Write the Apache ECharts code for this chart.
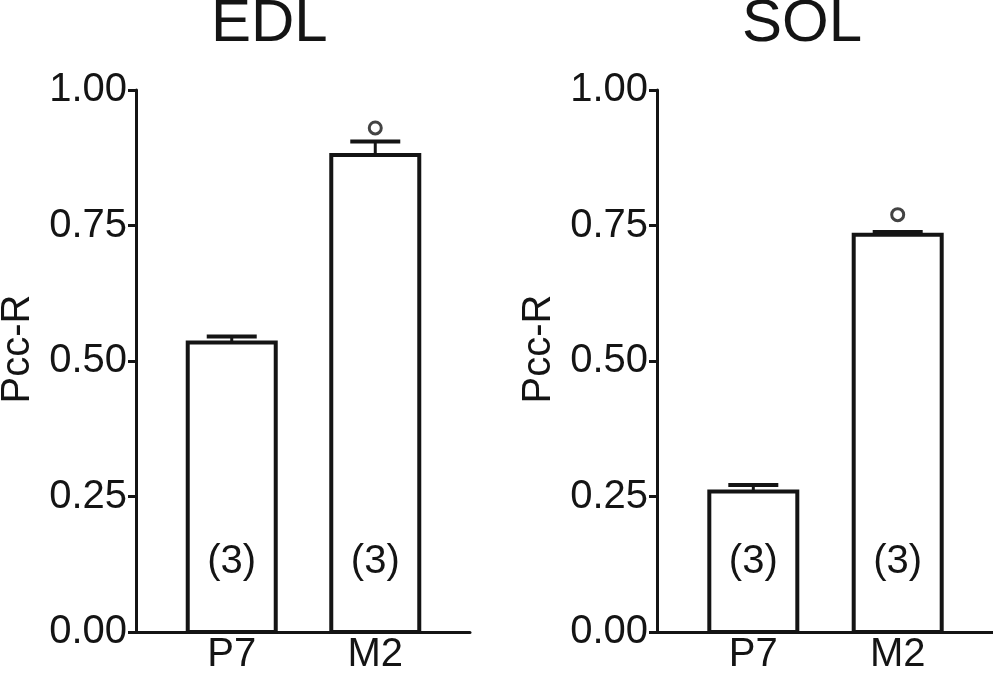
<!DOCTYPE html>
<html>
<head>
<meta charset="utf-8">
<script src="https://cdn.jsdelivr.net/npm/echarts@6/dist/echarts.min.js"></script>
<style>
html,body{margin:0;padding:0;background:#fff;}
#chart{width:993px;height:673px;}
</style>
</head>
<body>
<div id="chart"></div>
<script>
// ---- data ----
var categories = ['P7', 'M2'];
var panelTitles = ['EDL', 'SOL'];
var edlMean = [0.534, 0.880];
var edlUpper = [0.545, 0.905];
var solMean = [0.259, 0.733];
var solUpper = [0.271, 0.738];
var nCounts = ['(3)', '(3)'];
var edlMarker = [null, 0.930];
var solMarker = [null, 0.770];

var FONT = 'Liberation Sans, Arial, Helvetica, sans-serif';
var INK = '#141414';
var FS = 40;

var chart = echarts.init(document.getElementById('chart'), null, {renderer: 'canvas'});

function xAxisDef(gi) {
  return {
    type: 'value', gridIndex: gi, min: -0.667, max: 1.66,
    axisLine: {show: true, onZero: false, lineStyle: {color: INK, width: 3}},
    axisTick: {show: false},
    splitLine: {show: false},
    axisLabel: {
      show: true, customValues: [0, 1], margin: 3,
      fontSize: FS, fontFamily: FONT, color: INK,
      formatter: function (v) { return categories[Math.round(v)]; }
    }
  };
}
function yAxisDef(gi) {
  return {
    type: 'value', gridIndex: gi, min: 0, max: 1, interval: 0.25,
    name: 'Pcc-R', nameLocation: 'middle', nameGap: 98, nameRotate: 90,
    nameTextStyle: {fontSize: FS, fontFamily: FONT, color: INK, padding: [0, 0, 0, 24]},
    axisLine: {show: true, onZero: false, lineStyle: {color: INK, width: 3}},
    axisTick: {show: true, length: 8, lineStyle: {color: INK, width: 3}},
    splitLine: {show: false},
    axisLabel: {
      margin: 9, fontSize: FS, fontFamily: FONT, color: INK,
      formatter: function (v) { return v.toFixed(2); }
    }
  };
}

function barSeries(gi, means) {
  return {
    type: 'custom', xAxisIndex: gi, yAxisIndex: gi, z: 2,
    data: means.map(function (m, i) { return [i, m]; }),
    renderItem: function (params, api) {
      var idx = params.dataIndex;
      var base = api.coord([api.value(0), 0]);
      var top = api.coord([api.value(0), api.value(1)]);
      var w = 88;
      return {
        type: 'group',
        children: [
          {type: 'rect', shape: {x: base[0] - w / 2, y: top[1], width: w, height: base[1] - top[1]},
           style: {fill: '#fff', stroke: INK, lineWidth: 4}},
          {type: 'text', x: base[0], y: base[1] - 70,
           style: {text: nCounts[idx], fontSize: FS, fontFamily: FONT, fill: INK,
                   align: 'center', verticalAlign: 'middle'}}
        ]
      };
    }
  };
}
function errSeries(gi, means, uppers) {
  return {
    type: 'custom', xAxisIndex: gi, yAxisIndex: gi, z: 3,
    data: means.map(function (m, i) { return [i, m, uppers[i]]; }),
    renderItem: function (params, api) {
      var base = api.coord([api.value(0), api.value(1)]);
      var top = api.coord([api.value(0), api.value(2)]);
      var hw = 25;
      return {
        type: 'group',
        children: [
          {type: 'line', shape: {x1: base[0], y1: base[1], x2: top[0], y2: top[1]},
           style: {stroke: INK, lineWidth: 3}},
          {type: 'line', shape: {x1: top[0] - hw, y1: top[1], x2: top[0] + hw, y2: top[1]},
           style: {stroke: INK, lineWidth: 4}}
        ]
      };
    }
  };
}
function markerSeries(gi, vals) {
  var d = [];
  vals.forEach(function (v, i) { if (v !== null) d.push([i, v]); });
  return {
    type: 'scatter', xAxisIndex: gi, yAxisIndex: gi, z: 4,
    symbol: 'circle', symbolSize: 12, data: d,
    itemStyle: {color: '#fff', borderColor: INK, borderWidth: 3}
  };
}

var option = {
  backgroundColor: '#fff',
  animation: false,
  title: [
    {text: panelTitles[0], left: 211, top: -6, padding: 0,
     textStyle: {fontSize: 60, fontWeight: 'normal', fontFamily: FONT, color: INK}},
    {text: panelTitles[1], left: 742, top: -6, padding: 0,
     textStyle: {fontSize: 60, fontWeight: 'normal', fontFamily: FONT, color: INK}}
  ],
  grid: [
    {left: 136, width: 334, top: 90, height: 542, outerBoundsMode: 'none', containLabel: false},
    {left: 657, width: 336, top: 90, height: 542, outerBoundsMode: 'none', containLabel: false}
  ],
  xAxis: [xAxisDef(0), xAxisDef(1)],
  yAxis: [yAxisDef(0), yAxisDef(1)],
  series: [
    barSeries(0, edlMean), errSeries(0, edlMean, edlUpper), markerSeries(0, edlMarker),
    barSeries(1, solMean), errSeries(1, solMean, solUpper), markerSeries(1, solMarker)
  ]
};
chart.setOption(option);
</script>
</body>
</html>
